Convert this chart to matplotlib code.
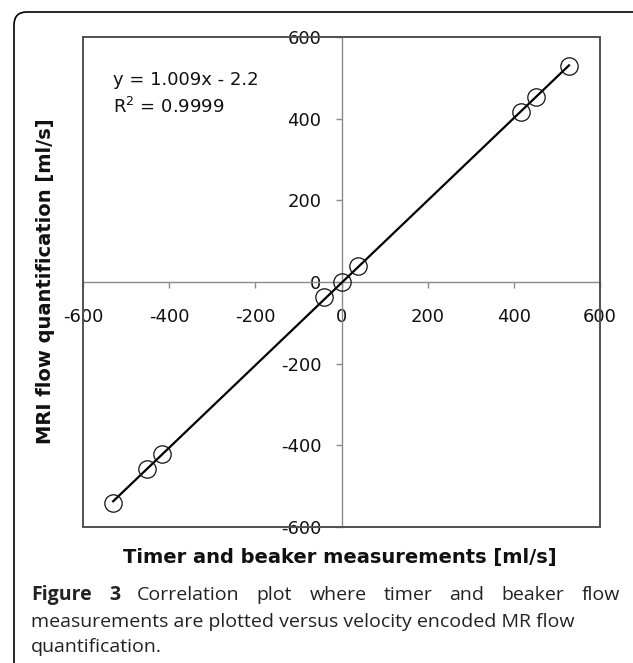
import matplotlib.pyplot as plt
import numpy as np
from matplotlib.patches import Rectangle, FancyBboxPatch

plt.rcParams['axes.unicode_minus'] = False
plt.rcParams['mathtext.default'] = 'regular'

# data
timer_beaker = [528, 451, 416, 38, 0, -40, -416, -452, -530]
mri_flow = [529, 453, 416, 40, 0, -36, -421, -458, -541]
slope = 1.009
intercept = -2.2
r_squared = 0.9999
tick_values = [-600, -400, -200, 0, 200, 400, 600]

W, H = 633, 663
fig = plt.figure(figsize=(W / 100, H / 100), dpi=100)

# rounded frame around figure + caption
frame = FancyBboxPatch((14 / W, -0.1), 1.2, (H - 12) / H + 0.1,
                       boxstyle="round,pad=0,rounding_size=0.02",
                       transform=fig.transFigure, fill=False,
                       edgecolor='black', linewidth=1.2)
fig.patches.append(frame)

ax = fig.add_axes([83 / W, (H - 527) / H, (600 - 83) / W, (527 - 37) / H])
ax.set_xlim(-600, 600)
ax.set_ylim(-600, 600)

# axes through the origin
for side in ['left', 'bottom']:
    ax.spines[side].set_position('zero')
    ax.spines[side].set_color('#8a8a8a')
    ax.spines[side].set_linewidth(1.0)
ax.spines['top'].set_visible(False)
ax.spines['right'].set_visible(False)
ax.add_patch(Rectangle((0, 0), 1, 1, transform=ax.transAxes, fill=False,
                       edgecolor='#505050', linewidth=1.4, zorder=5, clip_on=False))

ax.set_xticks(tick_values)
ax.set_yticks(tick_values)
ax.tick_params(direction='out', length=4.5, width=1.0, color='#8a8a8a',
               labelsize=13, labelcolor='#111111')
ax.tick_params(axis='x', pad=14)
ax.tick_params(axis='y', pad=10)
for lab in ax.get_xticklabels() + ax.get_yticklabels():
    lab.set_family('DejaVu Sans')

# trend line and points
xs = np.array([min(timer_beaker), max(timer_beaker)])
ax.plot(xs, slope * xs + intercept, color='black', linewidth=1.6, zorder=3)
ax.plot(timer_beaker, mri_flow, linestyle='', marker='o', markersize=12.5,
        markerfacecolor='none', markeredgecolor='#111111', markeredgewidth=0.9, zorder=4)

fig.text(113 / W, 1 - 85 / H, 'y = %.3fx - %.1f' % (slope, -intercept),
         va='baseline', fontsize=13, family='DejaVu Sans', color='#111111')
fig.text(113 / W, 1 - 113 / H, 'R$^2$ = %.4f' % r_squared,
         va='baseline', fontsize=13, family='DejaVu Sans', color='#111111')

fig.text(340 / W, 1 - 563 / H, 'Timer and beaker measurements [ml/s]',
         ha='center', va='baseline', fontsize=14, fontweight='bold',
         family='DejaVu Sans', color='#111111')
fig.text(46 / W, 1 - 281 / H, 'MRI flow quantification [ml/s]', rotation=90,
         ha='center', va='center', fontsize=14, fontweight='bold',
         family='DejaVu Sans', color='#111111')

# caption, first line justified
cap_font = dict(fontsize=14, family='Open Sans', color='#222222')
line1 = ['Figure', '3', 'Correlation', 'plot', 'where', 'timer', 'and', 'beaker', 'flow']
fig.canvas.draw()
renderer = fig.canvas.get_renderer()
left, right = 31, 620
widths = []
for i, w in enumerate(line1):
    t = fig.text(0, 0, w, fontweight='bold' if i < 2 else 'normal', **cap_font)
    widths.append(t.get_window_extent(renderer).width)
    t.remove()
gap = (right - left - sum(widths)) / (len(line1) - 1)
x = left
for i, w in enumerate(line1):
    fig.text(x / W, 1 - 600 / H, w, fontweight='bold' if i < 2 else 'normal',
             va='baseline', **cap_font)
    x += widths[i] + gap
fig.text(left / W, 1 - 627 / H, 'measurements are plotted versus velocity encoded MR flow',
         va='baseline', **cap_font)
fig.text(left / W, 1 - 652 / H, 'quantification.', va='baseline', **cap_font)

fig.savefig('out.png', dpi=100)
